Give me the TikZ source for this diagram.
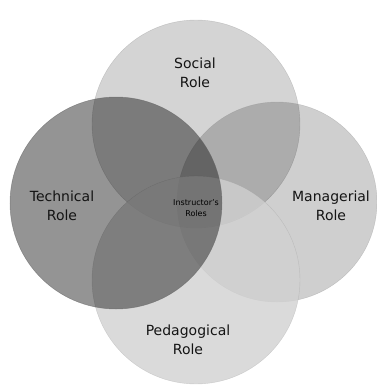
\documentclass[tikz,border=0pt]{standalone}
\usepackage{fontspec}
\setmainfont{DejaVu Sans}
\begin{document}
\begin{tikzpicture}[x=1pt,y=-1pt,
  socialcircle/.style={fill=black,fill opacity=0.17,draw=black!45,draw opacity=0.4,line width=0.4pt},
  managecircle/.style={fill=black,fill opacity=0.19,draw=black!45,draw opacity=0.4,line width=0.4pt},
  pedacircle/.style={fill=black!18,fill opacity=0.8,draw=black!45,draw opacity=0.3,line width=0.4pt},
  techcircle/.style={fill=black,fill opacity=0.42,draw=black!60,draw opacity=0.6,line width=0.5pt},
  rolelabel/.style={align=center,font=\fontsize{14}{19}\selectfont,text=black!92},
  corelabel/.style={align=center,font=\fontsize{8}{10.5}\selectfont,text=black}]
  \useasboundingbox (0,0) rectangle (377,386);
  % overlapping role circles, back to front
  \path[socialcircle] (196,124) circle[radius=104];
  \path[managecircle] (277,202) circle[radius=100];
  \path[pedacircle] (196,280) circle[radius=104];
  \path[techcircle] (116,203) circle[radius=106];
  % labels
  \node[rolelabel] (social) at (195,73) {Social\\Role};
  \node[rolelabel] (tech) at (62,206) {Technical\\Role};
  \node[rolelabel] (manage) at (331,206) {Managerial\\Role};
  \node[rolelabel] (peda) at (188,340) {Pedagogical\\Role};
  \node[corelabel] (core) at (196,208) {Instructor's\\Roles};
\end{tikzpicture}
\end{document}
